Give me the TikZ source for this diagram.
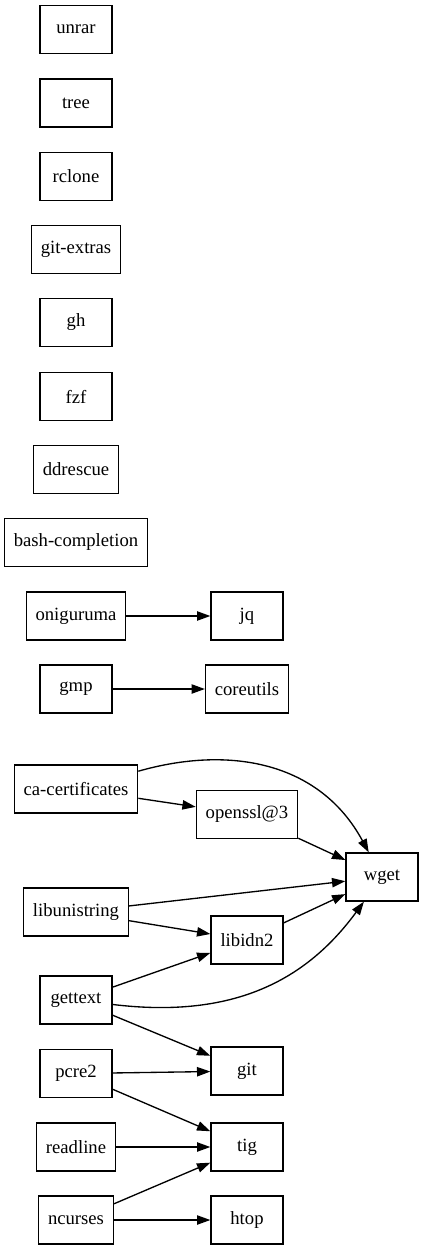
\documentclass[tikz,border=0pt]{standalone}
\usepackage{fontspec}
\setmainfont{Liberation Serif}
\usepackage{tikz}
\usetikzlibrary{positioning,shapes,arrows}
\usetikzlibrary{arrows.meta}
\tikzstyle{pkg}=[%
      rectangle, draw=black, line width=1pt, fill=none, font=\fontsize{14pt}{16pt}\selectfont,
      minimum height=36pt, minimum width=54pt, inner xsep=7pt, inner ysep=4pt
]
\tikzstyle{dep}=[%
      line width=1pt, -{Triangle[length=10pt,width=7pt]}
]

\begin{document}
\begin{tikzpicture}[x=0.75pt, y=-0.75pt]
\useasboundingbox (0,0) rectangle (424,1251);
% packages without dependencies
\node[pkg] (unrar) at (76,29.5){unrar};
\node[pkg] (tree) at (76,103){tree};
\node[pkg] (rclone) at (76,176.5){rclone};
\node[pkg] (gitextras) at (76,249.5){git-extras};
\node[pkg] (gh) at (76,322.5){gh};
\node[pkg] (fzf) at (76,396.5){fzf};
\node[pkg] (ddrescue) at (76,469.5){ddrescue};
\node[pkg] (bashcompletion) at (76,542.5){bash-completion};

% left column
\node[pkg] (oniguruma) at (76,616){oniguruma};
\node[pkg] (gmp) at (76,689){gmp};
\node[pkg] (cacertificates) at (76,789){ca-certificates};
\node[pkg] (libunistring) at (76,912){libunistring};
\node[pkg] (gettext) at (76,1000){gettext};
\node[pkg] (pcre2) at (76,1073.5){pcre2};
\node[pkg] (readline) at (76,1147){readline};
\node[pkg] (ncurses) at (76,1220){ncurses};

% right columns
\node[pkg] (jq) at (247,616){jq};
\node[pkg] (coreutils) at (247,689){coreutils};
\node[pkg] (openssl) at (247,814.5){openssl@3};
\node[pkg] (libidn2) at (247,940){libidn2};
\node[pkg] (git) at (247,1071){git};
\node[pkg] (tig) at (247,1147){tig};
\node[pkg] (htop) at (247,1220){htop};
\node[pkg] (wget) at (382,877){wget};

\draw[dep](oniguruma) -- (jq);
\draw[dep](gmp) -- (coreutils);
\draw[dep](cacertificates) -- (openssl);
\draw[dep](cacertificates) .. controls (230,745) and (320,762) .. (wget);
\draw[dep](openssl) -- (wget);
\draw[dep](libunistring) -- (wget);
\draw[dep](libunistring) -- (libidn2);
\draw[dep](libidn2) -- (wget);
\draw[dep](gettext) -- (libidn2);
\draw[dep](gettext) .. controls (240,1020) and (310,975) .. (wget);
\draw[dep](gettext) -- (git);
\draw[dep](pcre2) -- (git);
\draw[dep](pcre2) -- (tig);
\draw[dep](readline) -- (tig);
\draw[dep](ncurses) -- (tig);
\draw[dep](ncurses) -- (htop);
\end{tikzpicture}
\end{document}
